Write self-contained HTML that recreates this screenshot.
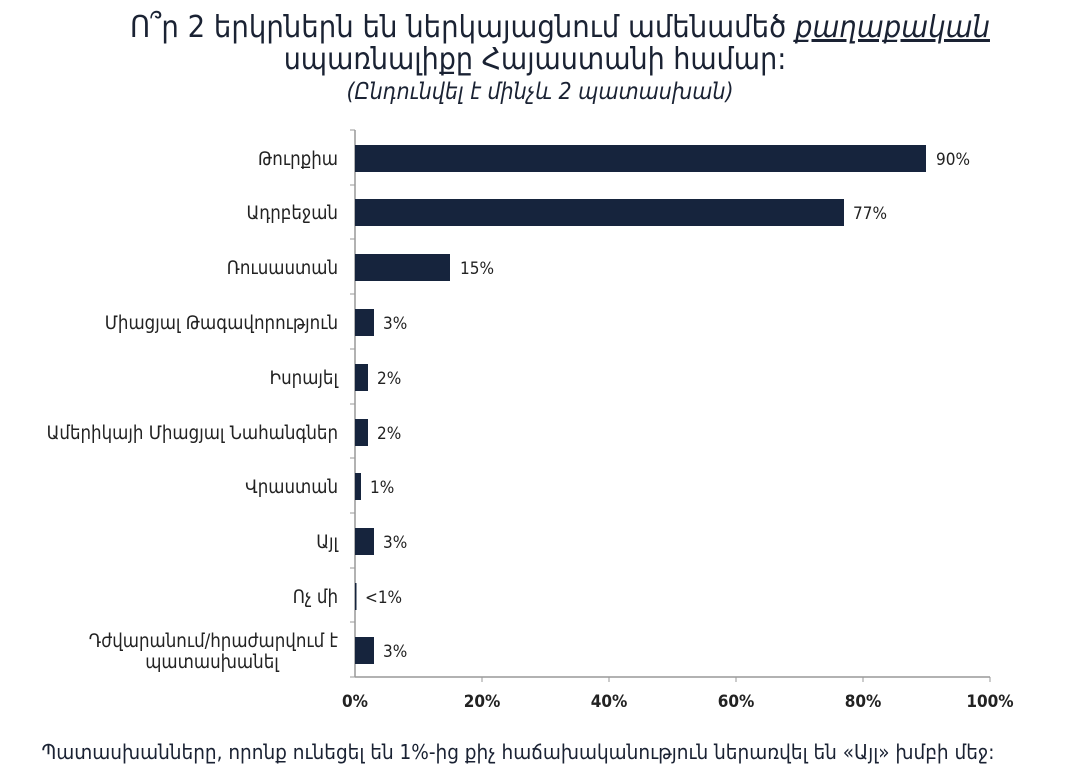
<!DOCTYPE html>
<html><head><meta charset="utf-8"><style>
body{margin:0;background:#fff;}
svg{display:block;font-family:"DejaVu Sans Condensed","DejaVu Sans",sans-serif;}
</style></head><body>
<svg width="1080" height="784" viewBox="0 0 1080 784">
<g fill="#1a2233" text-anchor="middle">
<text x="560" y="37" font-size="30" textLength="860" lengthAdjust="spacingAndGlyphs">Ո՞ր 2 երկրներն են ներկայացնում ամենամեծ <tspan text-decoration="underline" font-style="italic">քաղաքական</tspan></text>
<text x="535" y="69" font-size="30">սպառնալիքը Հայաստանի համար:</text>
<text x="540" y="99" font-size="23" font-style="italic">(Ընդունվել է մինչև  2 պատասխան)</text>
</g>
<g stroke="#999" stroke-width="1.5">
<line x1="355" y1="130" x2="355" y2="677"/>
<line x1="355" y1="677" x2="990" y2="677"/>
</g>
<g stroke="#999" stroke-width="1">
<line x1="350" y1="130" x2="355" y2="130"/><line x1="350" y1="185" x2="355" y2="185"/><line x1="350" y1="239" x2="355" y2="239"/><line x1="350" y1="294" x2="355" y2="294"/><line x1="350" y1="349" x2="355" y2="349"/><line x1="350" y1="404" x2="355" y2="404"/><line x1="350" y1="458" x2="355" y2="458"/><line x1="350" y1="513" x2="355" y2="513"/><line x1="350" y1="568" x2="355" y2="568"/><line x1="350" y1="622" x2="355" y2="622"/><line x1="350" y1="677" x2="355" y2="677"/>
<line x1="482" y1="677" x2="482" y2="682"/><line x1="609" y1="677" x2="609" y2="682"/><line x1="736" y1="677" x2="736" y2="682"/><line x1="863" y1="677" x2="863" y2="682"/><line x1="990" y1="677" x2="990" y2="682"/>
</g>
<g fill="#16243d">
<rect x="355" y="145" width="571" height="27"/>
<rect x="355" y="199" width="489" height="27"/>
<rect x="355" y="254" width="95" height="27"/>
<rect x="355" y="309" width="19" height="27"/>
<rect x="355" y="364" width="13" height="27"/>
<rect x="355" y="419" width="13" height="27"/>
<rect x="355" y="473" width="6" height="27"/>
<rect x="355" y="528" width="19" height="27"/>
<rect x="355" y="583" width="1.5" height="27"/>
<rect x="355" y="637" width="19" height="27"/>
</g>
<g font-size="17" fill="#222">
<text x="936" y="165">90%</text>
<text x="853" y="219">77%</text>
<text x="460" y="274">15%</text>
<text x="383" y="329">3%</text>
<text x="377" y="384">2%</text>
<text x="377" y="439">2%</text>
<text x="370" y="493">1%</text>
<text x="383" y="548">3%</text>
<text x="365" y="603">&lt;1%</text>
<text x="383" y="657">3%</text>
</g>
<g font-size="18.5" fill="#222" text-anchor="end">
<text x="338" y="165">Թուրքիա</text>
<text x="338" y="219">Ադրբեջան</text>
<text x="338" y="274">Ռուսաստան</text>
<text x="338" y="329">Միացյալ Թագավորություն</text>
<text x="338" y="384">Իսրայել</text>
<text x="338" y="439">Ամերիկայի Միացյալ Նահանգներ</text>
<text x="338" y="493">Վրաստան</text>
<text x="338" y="548">Այլ</text>
<text x="338" y="603">Ոչ մի</text>
<text x="338" y="647">Դժվարանում/հրաժարվում է</text>
<text x="212" y="668" text-anchor="middle">պատասխանել</text>
</g>
<g font-size="17" font-weight="bold" fill="#222" text-anchor="middle">
<text x="355" y="707">0%</text><text x="482" y="707">20%</text><text x="609" y="707">40%</text><text x="736" y="707">60%</text><text x="863" y="707">80%</text><text x="990" y="707">100%</text>
</g>
<text x="518" y="759" font-size="20.5" fill="#1a2233" text-anchor="middle" textLength="953" lengthAdjust="spacingAndGlyphs">Պատասխանները, որոնք ունեցել են 1%-ից քիչ հաճախականություն ներառվել են «Այլ» խմբի մեջ:</text>
</svg>
</body></html>
